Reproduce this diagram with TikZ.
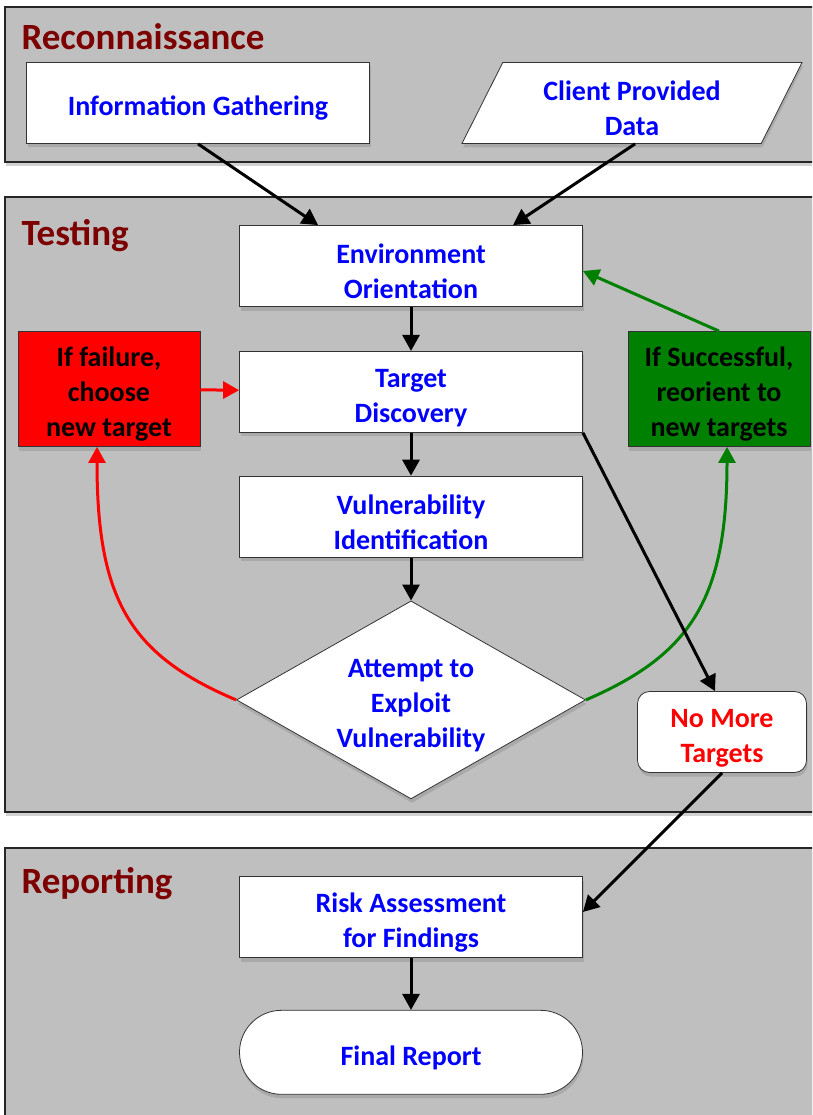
\documentclass[tikz,border=0pt]{standalone}
\usepackage{fontspec}
\setmainfont{Carlito}
\usepackage{xcolor}
\usetikzlibrary{shapes.geometric,shadows,arrows.meta,positioning,calc}
\definecolor{panelgray}{RGB}{191,191,191}
\definecolor{titlered}{RGB}{125,0,0}
\definecolor{okgreen}{RGB}{0,128,0}
\newcommand{\topstrut}{\rule{0pt}{30pt}}

\begin{document}
\begin{tikzpicture}[x=1pt, y=-1pt,
  font=\bfseries\fontsize{28}{35}\selectfont,
  shade/.style={drop shadow={opacity=0.35, shadow xshift=1pt, shadow yshift=-4pt}},
  panel/.style={draw=black!85, line width=2pt, fill=panelgray, shade},
  title/.style={anchor=base west, text=titlered, font=\bfseries\fontsize{37}{44}\selectfont},
  box/.style={draw=black!80, line width=0.8pt, fill=white, text=blue, align=center,
    minimum width=343, minimum height=81, inner sep=0pt, shade},
  flow/.style={line width=3pt, -{Triangle[length=16pt, width=17pt]}},
  node distance=43pt]
  \clip (0,0) rectangle (812,1115);
  \fill[white] (0,0) rectangle (812,1115);
  \draw[panel] (5,7) rectangle (830,162);
  \draw[panel] (5,197) rectangle (830,812);
  \draw[panel] (5,848) rectangle (830,1130);
  \node[title] (recon) at (18,50) {Reconnaissance};
  \node[title] (testing) at (18,245) {Testing};
  \node[title] (reporting) at (18,893) {Reporting};

  \node[box] (info) at (198,103) {\topstrut Information Gathering};
  \node[box, trapezium, trapezium left angle=58, trapezium right angle=122,
    minimum width=340, trapezium stretches body] (client) at (632,103) {\topstrut Client Provided\\Data};
  \node[box] (env) at (411,266) {\topstrut Environment\\Orientation};
  \node[box, below=44pt of env] (target) {\topstrut Target\\Discovery};
  \node[box, below=of target] (vuln) {\topstrut Vulnerability\\Identification};
  \node[box, diamond, below=of vuln, minimum width=349, minimum height=198, aspect=1.76]
    (attempt) {\topstrut Attempt to\\Exploit\\Vulnerability};
  \node[box, fill=red, text=black, minimum width=182, minimum height=115] (fail) at (109,389)
    {\topstrut If failure,\\choose\\new target};
  \node[box, fill=okgreen, text=black, minimum width=182, minimum height=115] (success) at (719,389)
    {\topstrut If Successful,\\reorient to\\new targets};
  \node[box, text=red, rounded corners=12pt, minimum width=169, minimum height=81] (nomore) at (722,732)
    {\topstrut No More\\Targets};
  \node[box] (risk) at (411,917) {\topstrut Risk Assessment\\for Findings};
  \node[box, rounded corners=42pt, minimum height=84, below=52pt of risk] (final) {\topstrut Final Report};

  \draw[flow] (info.south) -- ([xshift=-93pt]env.north);
  \draw[flow] ([xshift=3pt]client.south) -- ([xshift=102pt]env.north);
  \draw[flow] (env) -- (target);
  \draw[flow] (target) -- (vuln);
  \draw[flow] (vuln) -- (attempt);
  \draw[flow, red] (fail) -- (target);
  \draw[flow, red] (attempt.west) .. controls (130,655) and (97,600) .. ([xshift=-12pt]fail.south);
  \draw[flow, okgreen] (attempt.east) .. controls (690,655) and (727,600) .. ([xshift=8pt]success.south);
  \draw[flow, okgreen] (success.north) -- ([yshift=-5pt]env.east);
  \draw[flow] (target.south east) -- ([xshift=-7pt]nomore.north);
  \draw[flow] (nomore.south) -- ([yshift=5pt]risk.east);
  \draw[flow] (risk) -- (final);
\end{tikzpicture}
\end{document}
